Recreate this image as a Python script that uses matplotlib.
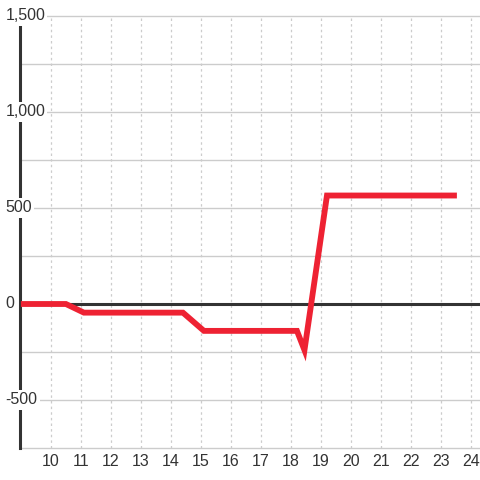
import matplotlib
matplotlib.use("Agg")
import matplotlib.pyplot as plt
import matplotlib.transforms as mtransforms

plt.rcParams['font.family'] = ['Liberation Sans', 'DejaVu Sans']

# data
x_vals = [9.0, 10.5, 11.1, 14.4, 15.1, 18.2, 18.45, 19.2, 23.53]
y_vals = [0, 0, -45, -45, -140, -140, -240, 565, 565]

x_ticks = list(range(10, 25))
y_label_ticks = [1500, 1000, 500, 0, -500]
y_grid = [1500, 1250, 1000, 750, 500, 250, -250, -500, -750]

fig = plt.figure(figsize=(4.8, 4.8), dpi=100)
fig.patch.set_facecolor('white')
ax = fig.add_axes([20/480, 1 - 448/480, 460/480, 432/480])
ax.set_facecolor('white')
ax.set_xlim(8.97, 24.3)
ax.set_ylim(-750, 1500)

for s in ax.spines.values():
    s.set_visible(False)

# horizontal grid
for g in y_grid:
    ax.axhline(g, color='#cccccc', lw=1, zorder=1, clip_on=False)
# vertical dotted grid
for t in x_ticks:
    ax.axvline(t, color='#cccccc', lw=0.9, ls=(0, (2, 2.5)), zorder=1)

# zero line
ax.axhline(0, color='#333333', lw=2.2, zorder=2)
# left axis line
ax.axvline(8.97, color='#333333', lw=2.2, zorder=2, clip_on=False)

ax.plot(x_vals, y_vals, color='#ee2233', lw=4.2, zorder=6,
        solid_joinstyle='miter', solid_capstyle='butt')

ax.set_xticks(x_ticks)
ax.set_xticklabels([str(t) for t in x_ticks], fontsize=11.5, color='#333333')
ax.tick_params(axis='x', length=0, pad=4.5)
ax.set_yticks([])

trans = mtransforms.blended_transform_factory(fig.transFigure, ax.transData)
for v in y_label_ticks:
    lab = f"{v:,}".replace('\u2212', '-')
    ax.text(5.5/480, v, lab, transform=trans, ha='left', va='center',
            fontsize=11.5, color='#333333', zorder=5, clip_on=False,
            bbox=dict(facecolor='white', edgecolor='none', pad=1.5))

fig.savefig('out.png', dpi=100)
